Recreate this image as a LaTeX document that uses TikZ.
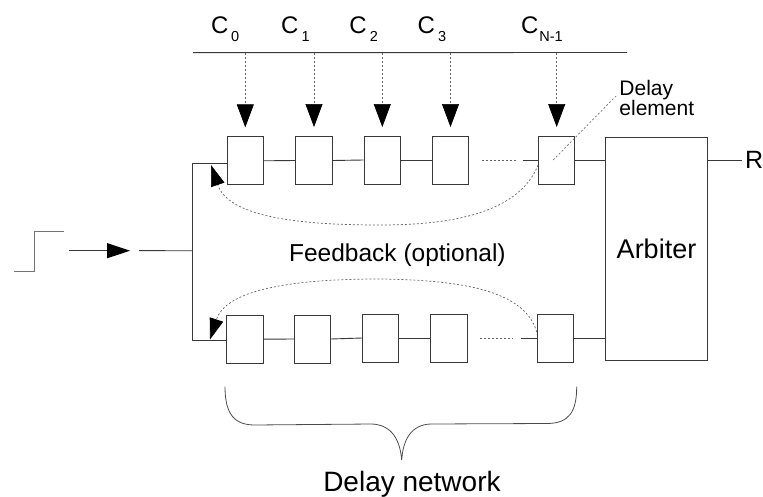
\documentclass[tikz,border=0pt]{standalone}
\usepackage{fontspec}
\setmainfont{Liberation Sans}
\usetikzlibrary{arrows.meta}
\newcommand\mycsub[2]{C\kern#1\raisebox{-8.4pt}{\fontsize{14.5}{14.5}\selectfont #2}}
\begin{document}
\begin{tikzpicture}[x=1pt,y=-1pt,
  line width=0.9pt,
  ln/.style={draw=black!78},
  cell/.style={draw=black!78, rectangle, minimum width=36.3pt, minimum height=48pt, inner sep=0pt},
  dsh/.style={draw=black!60, line width=0.7pt, dash pattern=on 2pt off 2pt},
  dtip/.style={-{Triangle[length=23pt,width=17pt,color=black]}},
  fbtip/.style={-{Triangle[length=21pt,width=14pt,color=black]}},
  lbl/.style={inner sep=0pt, text=black},
  clbl/.style={lbl, anchor=base west, font=\fontsize{24}{28}\selectfont}]
\useasboundingbox (0,0) rectangle (763,497);

% delay cells, top row
\node[cell] (t1) at (245.3,160.8) {};
\node[cell] (t2) at (314,160.5) {};
\node[cell] (t3) at (382.3,160) {};
\node[cell] (t4) at (450.5,160) {};
\node[cell] (t5) at (556.7,160) {};
% bottom row
\node[cell] (b1) at (245,339.2) {};
\node[cell] (b2) at (312.5,339) {};
\node[cell] (b3) at (380.7,338) {};
\node[cell] (b4) at (448.8,338) {};
\node[cell] (b5) at (555.3,338) {};

% arbiter
\node[draw=black!78, rectangle, inner sep=0pt, minimum width=101.6pt, minimum height=222.3pt,
      font=\fontsize{27}{30}\selectfont] (arb) at (656.5,248.8) {Arbiter};

% chain connectors
\draw[ln] (t1.east) -- (t2.west);
\draw[ln] (t2.east) -- (t3.west);
\draw[ln] (t3.east) -- (t4.west);
\draw[dsh] ([xshift=13pt]t4.east) -- ([xshift=46.5pt]t4.east);
\draw[ln] ([xshift=-15.5pt]t5.west) -- (t5.west);
\draw[ln] (t5.east) -- (t5.east -| arb.west);

\draw[ln] (b1.east) -- (b2.west);
\draw[ln] (b2.east) -- (b3.west);
\draw[ln] (b3.east) -- (b4.west);
\draw[dsh] ([xshift=12.7pt]b4.east) -- ([xshift=46pt]b4.east);
\draw[ln] ([xshift=-15.5pt]b5.west) -- (b5.west);
\draw[ln] (b5.east) -- (b5.east -| arb.west);

% output R
\node[lbl, anchor=west, font=\fontsize{25}{28}\selectfont] (R) at (744.7,160.3) {R};
\draw[ln] (arb.east |- R.west) -- ([xshift=-3pt]R.west);

% control bus
\coordinate (busL) at (193,52.7);
\coordinate (busR) at (627,52.5);
\draw[ln] (busL) -- (busR);
\node[clbl] (c0) at (210.6,33.3) {\mycsub{2.8pt}{0}};
\node[clbl] (c1) at (280.6,33.3) {\mycsub{3.3pt}{1}};
\node[clbl] (c2) at (348.9,33.3) {\mycsub{3.2pt}{2}};
\node[clbl] (c3) at (417.2,33.3) {\mycsub{3.2pt}{3}};
\node[clbl] (cn) at (520.6,33.3) {\mycsub{1pt}{N-1}};
\draw[dsh,dtip] (t1.north |- busL) -- ([yshift=9pt]t1.north);
\draw[dsh,dtip] (t2.north |- busL) -- ([yshift=9pt]t2.north);
\draw[dsh,dtip] (t3.north |- busL) -- ([yshift=8.5pt]t3.north);
\draw[dsh,dtip] (t4.north |- busL) -- ([yshift=8.5pt]t4.north);
\draw[dsh,dtip] (t5.north |- busL) -- ([yshift=8.5pt]t5.north);

% delay element label
\node[lbl, anchor=north west, align=left, font=\fontsize{21}{20}\selectfont] (de) at (619,80) {Delay\\element};
\coordinate (deL) at (616,96);
\draw[dsh, draw=black!55] ([xshift=-3.5pt]t5.center) -- (deL);

% input step and splitter
\draw[draw=black!55] (14,271.7) -- (34.3,271.7) -- (34.3,231) -- (64.3,231);
\coordinate (inA) at (69,250.7);
\coordinate (inB) at (130,250.7);
\coordinate (inC) at (139,250.6);
\coordinate (sp) at (192,250.8);
\coordinate (spT) at (192,163.3);
\coordinate (spB) at (192,340.5);
\draw[ln, -{Triangle[length=23pt,width=15pt,color=black]}] (inA) -- (inB);
\draw[ln] (inC) -- (sp);
\draw[ln] (spT) -- (spB);
\draw[ln] (spT) -- (spT -| t1.west);
\draw[ln] (spB) -- (spB -| b1.west);

% feedback paths
\coordinate (fbT) at (211,165);
\coordinate (fbB) at (210,339.5);
\draw[dsh,fbtip] ([yshift=-5pt]t5.west) .. controls (520,210) and (460,225) .. (380,225)
   .. controls (290,225) and (228,215) .. (fbT);
\draw[dsh,fbtip] ([yshift=6pt]b5.west) .. controls (525,290) and (460,280) .. (380,279)
   .. controls (290,279) and (226,290) .. (fbB);
\node[lbl, anchor=base west, font=\fontsize{24.5}{28}\selectfont] (fb) at (288.7,261.7) {Feedback (optional)};

% brace
\coordinate (brL) at (225,386.7);
\coordinate (brM) at (401.7,460);
\coordinate (brR) at (576.7,386.7);
\draw[draw=black!70, line width=0.8pt] (brL) .. controls (225,415) and (235,425) .. (255,425)
   -- (372,424) .. controls (392,425) and (400,440) .. (brM)
   .. controls (403,440) and (411,424.5) .. (431,424)
   -- (548,423.5) .. controls (568,423) and (576.7,413) .. (brR);
\node[lbl, anchor=base west, font=\fontsize{28}{32}\selectfont] (dn) at (322.8,491.7) {Delay network};
\end{tikzpicture}
\end{document}
